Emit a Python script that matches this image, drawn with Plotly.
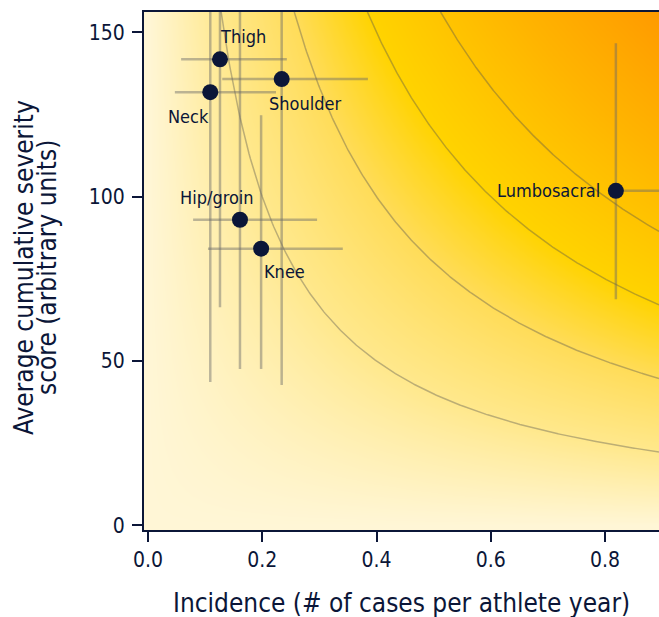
import numpy as np
import plotly.graph_objects as go

# ---- data ----
regions = ["Neck", "Thigh", "Shoulder", "Hip/groin", "Knee", "Lumbosacral"]
incidence = [0.109, 0.126, 0.234, 0.161, 0.198, 0.819]
inc_minus = [0.062, 0.068, 0.104, 0.082, 0.093, 0.0]
inc_plus = [0.115, 0.117, 0.151, 0.135, 0.143, 0.15]
severity = [131.8, 141.8, 135.8, 93.0, 84.2, 101.8]
sev_minus = [88.2, 75.4, 93.1, 45.4, 36.6, 33.0]
sev_plus = [88.0, 75.0, 93.0, 70.0, 40.6, 44.9]
burden_levels = [20, 40, 60, 80]
x_ticks = [0.0, 0.2, 0.4, 0.6, 0.8]
y_ticks = [0, 50, 100, 150]
x_title = "Incidence (# of cases per athlete year)"
y_title_lines = ["Average cumulative severity", "score (arbitrary units)"]

# label placement (pixel offsets from point)
label_dx = [-22, 23, 23, -23, 23, -14]
label_dy = [-24, 23, -24, 22, -23, 0]

XR = [-0.007, 0.8945]
YR = [-1.4, 156.2]
NAVY = "#0b1638"
FONT = "DejaVu Sans Condensed, DejaVu Sans, sans-serif"

fig = go.Figure()

# background burden surface (incidence x severity)
gx = np.linspace(XR[0], XR[1], 220)
gy = np.linspace(YR[0], YR[1], 220)
Z = np.clip(np.outer(gy, gx), 0, None)
fig.add_trace(go.Heatmap(
    x=gx, y=gy, z=Z, zmin=0, zmax=140, zsmooth="best", showscale=False,
    hoverinfo="skip",
    colorscale=[
        [0.0, "#fff6d6"],
        [0.143, "#ffe88c"],
        [0.286, "#ffdc58"],
        [0.43, "#ffd300"],
        [0.57, "#ffc400"],
        [0.72, "#ffb400"],
        [1.0, "#ff9a00"],
    ],
))

# iso-burden lines
for c in burden_levels:
    xs = np.linspace(c / YR[1], XR[1], 300)
    fig.add_trace(go.Scatter(
        x=xs, y=c / xs, mode="lines", hoverinfo="skip", showlegend=False,
        line=dict(color="rgba(80,80,80,0.38)", width=1.5),
    ))

# points with error bars
fig.add_trace(go.Scatter(
    x=incidence, y=severity, mode="markers", showlegend=False,
    marker=dict(size=16, color=NAVY),
    error_x=dict(type="data", symmetric=False, array=inc_plus, arrayminus=inc_minus,
                 color="rgba(105,105,105,0.45)", thickness=2.5, width=0),
    error_y=dict(type="data", symmetric=False, array=sev_plus, arrayminus=sev_minus,
                 color="rgba(105,105,105,0.45)", thickness=2.5, width=0),
))

for name, x, y, dx, dy in zip(regions, incidence, severity, label_dx, label_dy):
    fig.add_annotation(
        x=x, y=y, text=name, showarrow=False,
        xanchor="right" if name == "Lumbosacral" else "center",
        yanchor="middle", xshift=dx, yshift=dy,
        font=dict(family=FONT, size=18, color=NAVY),
    )

# axis titles
fig.add_annotation(
    xref="paper", yref="paper", x=0.5, y=0, xanchor="center", yanchor="top",
    yshift=-56, text=x_title, showarrow=False,
    font=dict(family=FONT, size=26, color=NAVY),
)
for txt, xs in zip(y_title_lines, [-120, -97]):
    fig.add_annotation(
        xref="paper", yref="paper", x=0, y=0.5, xanchor="center", yanchor="middle",
        xshift=xs, yshift=3, text=txt, textangle=-90, showarrow=False,
        font=dict(family=FONT, size=26, color=NAVY),
    )

fig.update_layout(
    width=659, height=617,
    margin=dict(l=144, r=0, t=12, b=87),
    paper_bgcolor="white", plot_bgcolor="white",
    font=dict(family=FONT, color=NAVY),
    showlegend=False,
)
fig.update_xaxes(
    range=XR, tickvals=x_ticks, tickformat=".1f",
    showgrid=False, zeroline=False,
    showline=True, linecolor=NAVY, linewidth=2, mirror=True,
    ticks="outside", ticklen=10, tickwidth=2, tickcolor=NAVY,
    tickfont=dict(size=21, color=NAVY, family=FONT),
)
fig.update_yaxes(
    range=YR, tickvals=y_ticks,
    showgrid=False, zeroline=False,
    showline=True, linecolor=NAVY, linewidth=2,
    ticks="outside", ticklen=10, tickwidth=2, tickcolor=NAVY,
    ticklabelstandoff=3,
    tickfont=dict(size=21, color=NAVY, family=FONT),
)

fig.write_html(
    "out.html",
    config={"displayModeBar": False},
    post_script="document.body.style.margin='0';"
                "document.documentElement.style.overflow='hidden';"
                "document.body.style.overflow='hidden';",
)
